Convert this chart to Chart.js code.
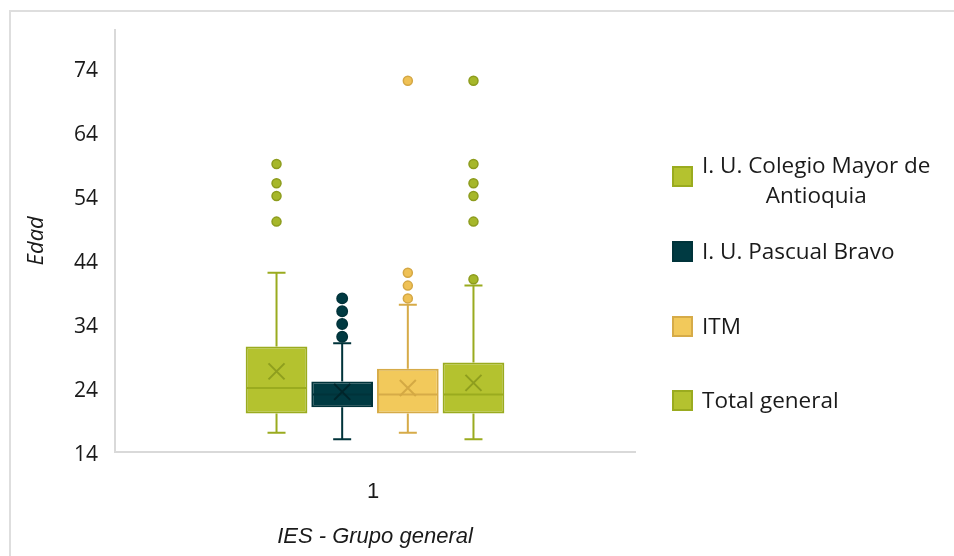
<!DOCTYPE html>
<html>
<head>
<meta charset="utf-8">
<script src="https://cdn.jsdelivr.net/npm/chart.js@4"></script>
<style>
  html, body { margin: 0; padding: 0; background: #fff; }
  #wrap { position: relative; width: 954px; height: 556px; overflow: hidden; }
  #frame { position: absolute; left: 9px; top: 10px; width: 1000px; height: 600px;
           border-left: 2px solid #dedede; border-top: 2px solid #dedede; }
  canvas { position: absolute; left: 0; top: 0; }
  .leg { position: absolute; font-family: "Open Sans", sans-serif; font-size: 22.5px; color: #1a1a1a; white-space: nowrap; }
  .sw { position: absolute; width: 17px; height: 17px; border: 2px solid; }
</style>
</head>
<body>
<div id="wrap">
  <div id="frame"></div>
  <canvas id="c" width="954" height="556"></canvas>
  <div id="legend"></div>
</div>
<script>
// ---- data ----
const categories = ['1'];
const seriesNames = [['I. U. Colegio Mayor de', 'Antioquia'], ['I. U. Pascual Bravo'], ['ITM'], ['Total general']];
const q1Values = [20, 21, 20, 20];
const medianValues = [24, 23, 23, 23];
const q3Values = [30.5, 25, 27, 28];
const whiskerLow = [17, 16, 17, 16];
const whiskerHigh = [42, 31, 37, 40];
const meanValues = [26.6, 23.4, 24.0, 24.8];
const outlierValues = [
  [50, 54, 56, 59],
  [32, 34, 36, 38],
  [38, 40, 42, 72],
  [41, 50, 54, 56, 59, 72]
];
const yTicks = [14, 24, 34, 44, 54, 64, 74];
const yMin = 14, yMax = 80;

// ---- styles ----
const fills   = ['#b4c22f', '#003a42', '#f2c95b', '#b4c22f'];
const borders = ['#9aab1f', '#00333a', '#d6ab48', '#9aab1f'];
const meanCol = ['#8e9e1e', '#00252a', '#d4a944', '#8e9e1e'];
const dotFill = ['#a6b72a', '#003a42', '#efc155', '#a6b72a'];
const dotLine = ['#8d9c1d', '#00333a', '#d4a744', '#8d9c1d'];
const dotRad  = [4.5, 5.2, 4.5, 4.5];

const datasets = seriesNames.map((n, i) => ({
  label: n.join(' '),
  data: categories.map(() => [q1Values[i], q3Values[i]]),
  backgroundColor: fills[i],
  borderColor: borders[i],
  borderWidth: 2,
  borderSkipped: false
}));

const boxPlugin = {
  id: 'boxparts',
  afterDatasetsDraw(chart) {
    const ctx = chart.ctx;
    const ys = chart.scales.y;
    datasets.forEach((ds, i) => {
      const meta = chart.getDatasetMeta(i);
      meta.data.forEach((bar) => {
        const x = bar.x, w = bar.width;
        const left = x - w / 2 + 1, right = x + w / 2 - 1;
        ctx.save();
        ctx.lineWidth = 2;
        ctx.strokeStyle = borders[i];
        const yq1 = ys.getPixelForValue(q1Values[i]);
        const yq3 = ys.getPixelForValue(q3Values[i]);
        const ylo = ys.getPixelForValue(whiskerLow[i]);
        const yhi = ys.getPixelForValue(whiskerHigh[i]);
        const cap = 9;
        ctx.beginPath();
        ctx.moveTo(x, yq3); ctx.lineTo(x, yhi);
        ctx.moveTo(x - cap, yhi); ctx.lineTo(x + cap, yhi);
        ctx.moveTo(x, yq1); ctx.lineTo(x, ylo);
        ctx.moveTo(x - cap, ylo); ctx.lineTo(x + cap, ylo);
        ctx.stroke();
        const ym = ys.getPixelForValue(medianValues[i]);
        ctx.beginPath();
        ctx.moveTo(left, ym); ctx.lineTo(right, ym);
        ctx.stroke();
        const yme = ys.getPixelForValue(meanValues[i]);
        const s = 8;
        ctx.strokeStyle = meanCol[i];
        ctx.beginPath();
        ctx.moveTo(x - s, yme - s); ctx.lineTo(x + s, yme + s);
        ctx.moveTo(x + s, yme - s); ctx.lineTo(x - s, yme + s);
        ctx.stroke();
        ctx.lineWidth = 1.5;
        outlierValues[i].forEach(v => {
          const yo = ys.getPixelForValue(v);
          ctx.beginPath();
          ctx.arc(x, yo, dotRad[i], 0, Math.PI * 2);
          ctx.fillStyle = dotFill[i];
          ctx.fill();
          ctx.strokeStyle = dotLine[i];
          ctx.stroke();
        });
        ctx.restore();
      });
    });
  }
};

new Chart(document.getElementById('c'), {
  type: 'bar',
  data: { labels: categories, datasets },
  plugins: [boxPlugin],
  options: {
    responsive: false,
    animation: false,
    events: [],
    layout: { padding: { left: 0, top: 28, right: 319, bottom: 0 } },
    plugins: { legend: { display: false }, tooltip: { enabled: false } },
    datasets: { bar: { categoryPercentage: 0.505, barPercentage: 0.94 } },
    scales: {
      x: {
        grid: { display: false, drawTicks: false },
        border: { display: true, color: '#d9d9d9', width: 2 },
        ticks: { color: '#1a1a1a', padding: 27, labelOffset: -2, font: { family: 'Liberation Sans, Arial', size: 22 } },
        title: { display: true, text: 'IES - Grupo general', color: '#1a1a1a', padding: { top: 0, bottom: 6 },
                 font: { family: 'Liberation Sans, Arial', size: 22, style: 'italic' } },
        afterFit(scale) { scale.height = 104; }
      },
      y: {
        min: yMin, max: yMax,
        grid: { display: false, drawTicks: false },
        border: { display: true, color: '#d9d9d9', width: 2 },
        ticks: { color: '#1a1a1a', padding: 17, labelOffset: 3, font: { family: 'Open Sans', size: 21 } },
        afterBuildTicks(scale) { scale.ticks = yTicks.map(v => ({ value: v })); },
        title: { display: true, text: 'Edad', color: '#1a1a1a', padding: { top: 24, bottom: 0 },
                 font: { family: 'Open Sans', size: 22, style: 'italic' } },
        afterFit(scale) { scale.width = 115; }
      }
    }
  }
});

// ---- legend (HTML text) ----
const legRows = [176, 251, 326, 400];
const legend = document.getElementById('legend');
seriesNames.forEach((lines, i) => {
  const sw = document.createElement('div');
  sw.className = 'sw';
  sw.style.left = '672px';
  sw.style.top = (legRows[i] - 10) + 'px';
  sw.style.background = fills[i];
  sw.style.borderColor = borders[i];
  legend.appendChild(sw);
  const t = document.createElement('div');
  t.className = 'leg';
  t.style.left = '702px';
  t.style.textAlign = 'center';
  t.style.lineHeight = '30px';
  t.innerHTML = lines.join('<br>');
  const h = lines.length * 30;
  t.style.top = (lines.length > 1 ? legRows[i] + 4 - h / 2 : legRows[i] - 15) + 'px';
  legend.appendChild(t);
});
</script>
</body>
</html>
